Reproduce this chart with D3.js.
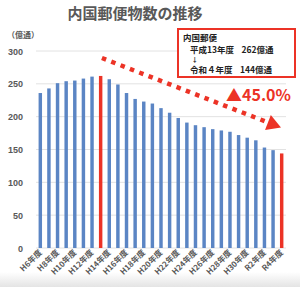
<!DOCTYPE html>
<html>
<head>
<meta charset="UTF-8">
<style>
  body { margin: 0; background: #fff; }
  svg { display: block; font-family: "Noto Sans CJK JP", sans-serif; }
  .tick text { fill: #595959; font-weight: bold; }
</style>
</head>
<body>
<svg width="300" height="287"></svg>
<script src="https://d3js.org/d3.v7.min.js"></script>
<script>
// fiscal years H6 .. R4
const years = ["H6年度","H7年度","H8年度","H9年度","H10年度","H11年度","H12年度","H13年度","H14年度","H15年度",
  "H16年度","H17年度","H18年度","H19年度","H20年度","H21年度","H22年度","H23年度","H24年度","H25年度",
  "H26年度","H27年度","H28年度","H29年度","H30年度","R1年度","R2年度","R3年度","R4年度"];
// 内国郵便物数 (億通)
const volumes = [236, 243, 251, 254, 255, 258, 261, 262, 257, 249,
  236, 227, 223, 220, 213, 206, 198, 191, 187, 184,
  181, 179, 177, 172, 168, 164, 153, 149, 144];
const highlight = ["H13年度", "R4年度"];
const yTicks = [0, 50, 100, 150, 200, 250, 300];

const svg = d3.select("svg");
const grey = "#595959", red = "#ec3326", blue = "#5b85c4";

// soft shadow at the bottom
const defs = svg.append("defs");
const grad = defs.append("linearGradient").attr("id", "bottomShade")
  .attr("x1", 0).attr("y1", 0).attr("x2", 0).attr("y2", 1);
grad.append("stop").attr("offset", "0%").attr("stop-color", "#fff");
grad.append("stop").attr("offset", "100%").attr("stop-color", "#e4e4e4");
svg.append("rect").attr("x", 0).attr("y", 272).attr("width", 300).attr("height", 15)
  .attr("fill", "url(#bottomShade)");

const x = d3.scaleBand().domain(years).range([36, 286]).paddingInner(0.6).paddingOuter(0.3);
const y = d3.scaleLinear().domain([0, 300]).range([248, 51]);

// gridlines
svg.append("g").selectAll("line").data(yTicks).join("line")
  .attr("x1", 36).attr("x2", 286)
  .attr("y1", d => y(d)).attr("y2", d => y(d))
  .attr("stroke", "#e2e2e2").attr("stroke-width", 1);

// y axis labels
const yAxis = svg.append("g").attr("transform", "translate(24,0)")
  .call(d3.axisLeft(y).tickValues(yTicks).tickSize(0).tickPadding(1));
yAxis.select(".domain").remove();
yAxis.selectAll("text").attr("font-size", 9).attr("dy", "0.35em");

// bars
svg.append("g").selectAll("rect").data(volumes).join("rect")
  .attr("x", (d, i) => x(years[i]))
  .attr("width", x.bandwidth())
  .attr("y", d => y(d))
  .attr("height", d => y(0) - y(d))
  .attr("fill", (d, i) => highlight.includes(years[i]) ? red : blue);

// x labels, every other year
svg.append("g").selectAll("text").data(years.filter((d, i) => i % 2 === 0)).join("text")
  .attr("transform", d => `translate(${x(d) + x.bandwidth() / 2 + 2},253) rotate(-45)`)
  .attr("text-anchor", "end")
  .attr("font-size", 8).attr("font-weight", "bold").attr("fill", grey)
  .text(d => d);

// title
svg.append("text").attr("x", 135).attr("y", 18.5).attr("text-anchor", "middle")
  .attr("font-size", 15).attr("font-weight", "bold").attr("fill", grey)
  .text("内国郵便物数の推移");

svg.append("text").attr("x", 7).attr("y", 37.5)
  .attr("font-size", 8).attr("font-weight", "bold").attr("fill", grey)
  .text("（億通）");

// dotted trend arrow
const a0 = [x("H13年度") + 3, 58], a1 = [281, 127.5];
const ang = Math.atan2(a1[1] - a0[1], a1[0] - a0[0]);
const headLen = 14, headW = 8;
const base = [a1[0] - headLen * Math.cos(ang), a1[1] - headLen * Math.sin(ang)];
svg.append("line")
  .attr("x1", a0[0]).attr("y1", a0[1]).attr("x2", base[0]).attr("y2", base[1])
  .attr("stroke", red).attr("stroke-width", 4.5).attr("stroke-dasharray", "4.5 5.5");
svg.append("path")
  .attr("d", d3.line()([
    a1,
    [base[0] + headW * Math.sin(ang), base[1] - headW * Math.cos(ang)],
    [base[0] - headW * Math.sin(ang), base[1] + headW * Math.cos(ang)]
  ]) + "Z")
  .attr("fill", red);

svg.append("text").attr("x", 226).attr("y", 100.5)
  .attr("font-size", 16).attr("font-weight", "bold").attr("fill", red)
  .text("▲45.0%");

// annotation box
svg.append("rect").attr("x", 178).attr("y", 29).attr("width", 117).attr("height", 48)
  .attr("fill", "#fff").attr("stroke", red).attr("stroke-width", 2);
const boxLines = [
  { t: "内国郵便", x: 183, y: 40.5, s: 8.5 },
  { t: "平成13年度", x: 190, y: 53, s: 8.5 },
  { t: "262億通", x: 241.5, y: 53, s: 8.5 },
  { t: "↓", x: 191.5, y: 62, s: 6.5 },
  { t: "令和４年度", x: 190, y: 72.5, s: 8.5 },
  { t: "144億通", x: 240, y: 72.5, s: 8.5 }
];
svg.append("g").selectAll("text").data(boxLines).join("text")
  .attr("x", d => d.x).attr("y", d => d.y)
  .attr("font-size", d => d.s).attr("font-weight", "bold").attr("fill", "#222")
  .text(d => d.t);
</script>
</body>
</html>
